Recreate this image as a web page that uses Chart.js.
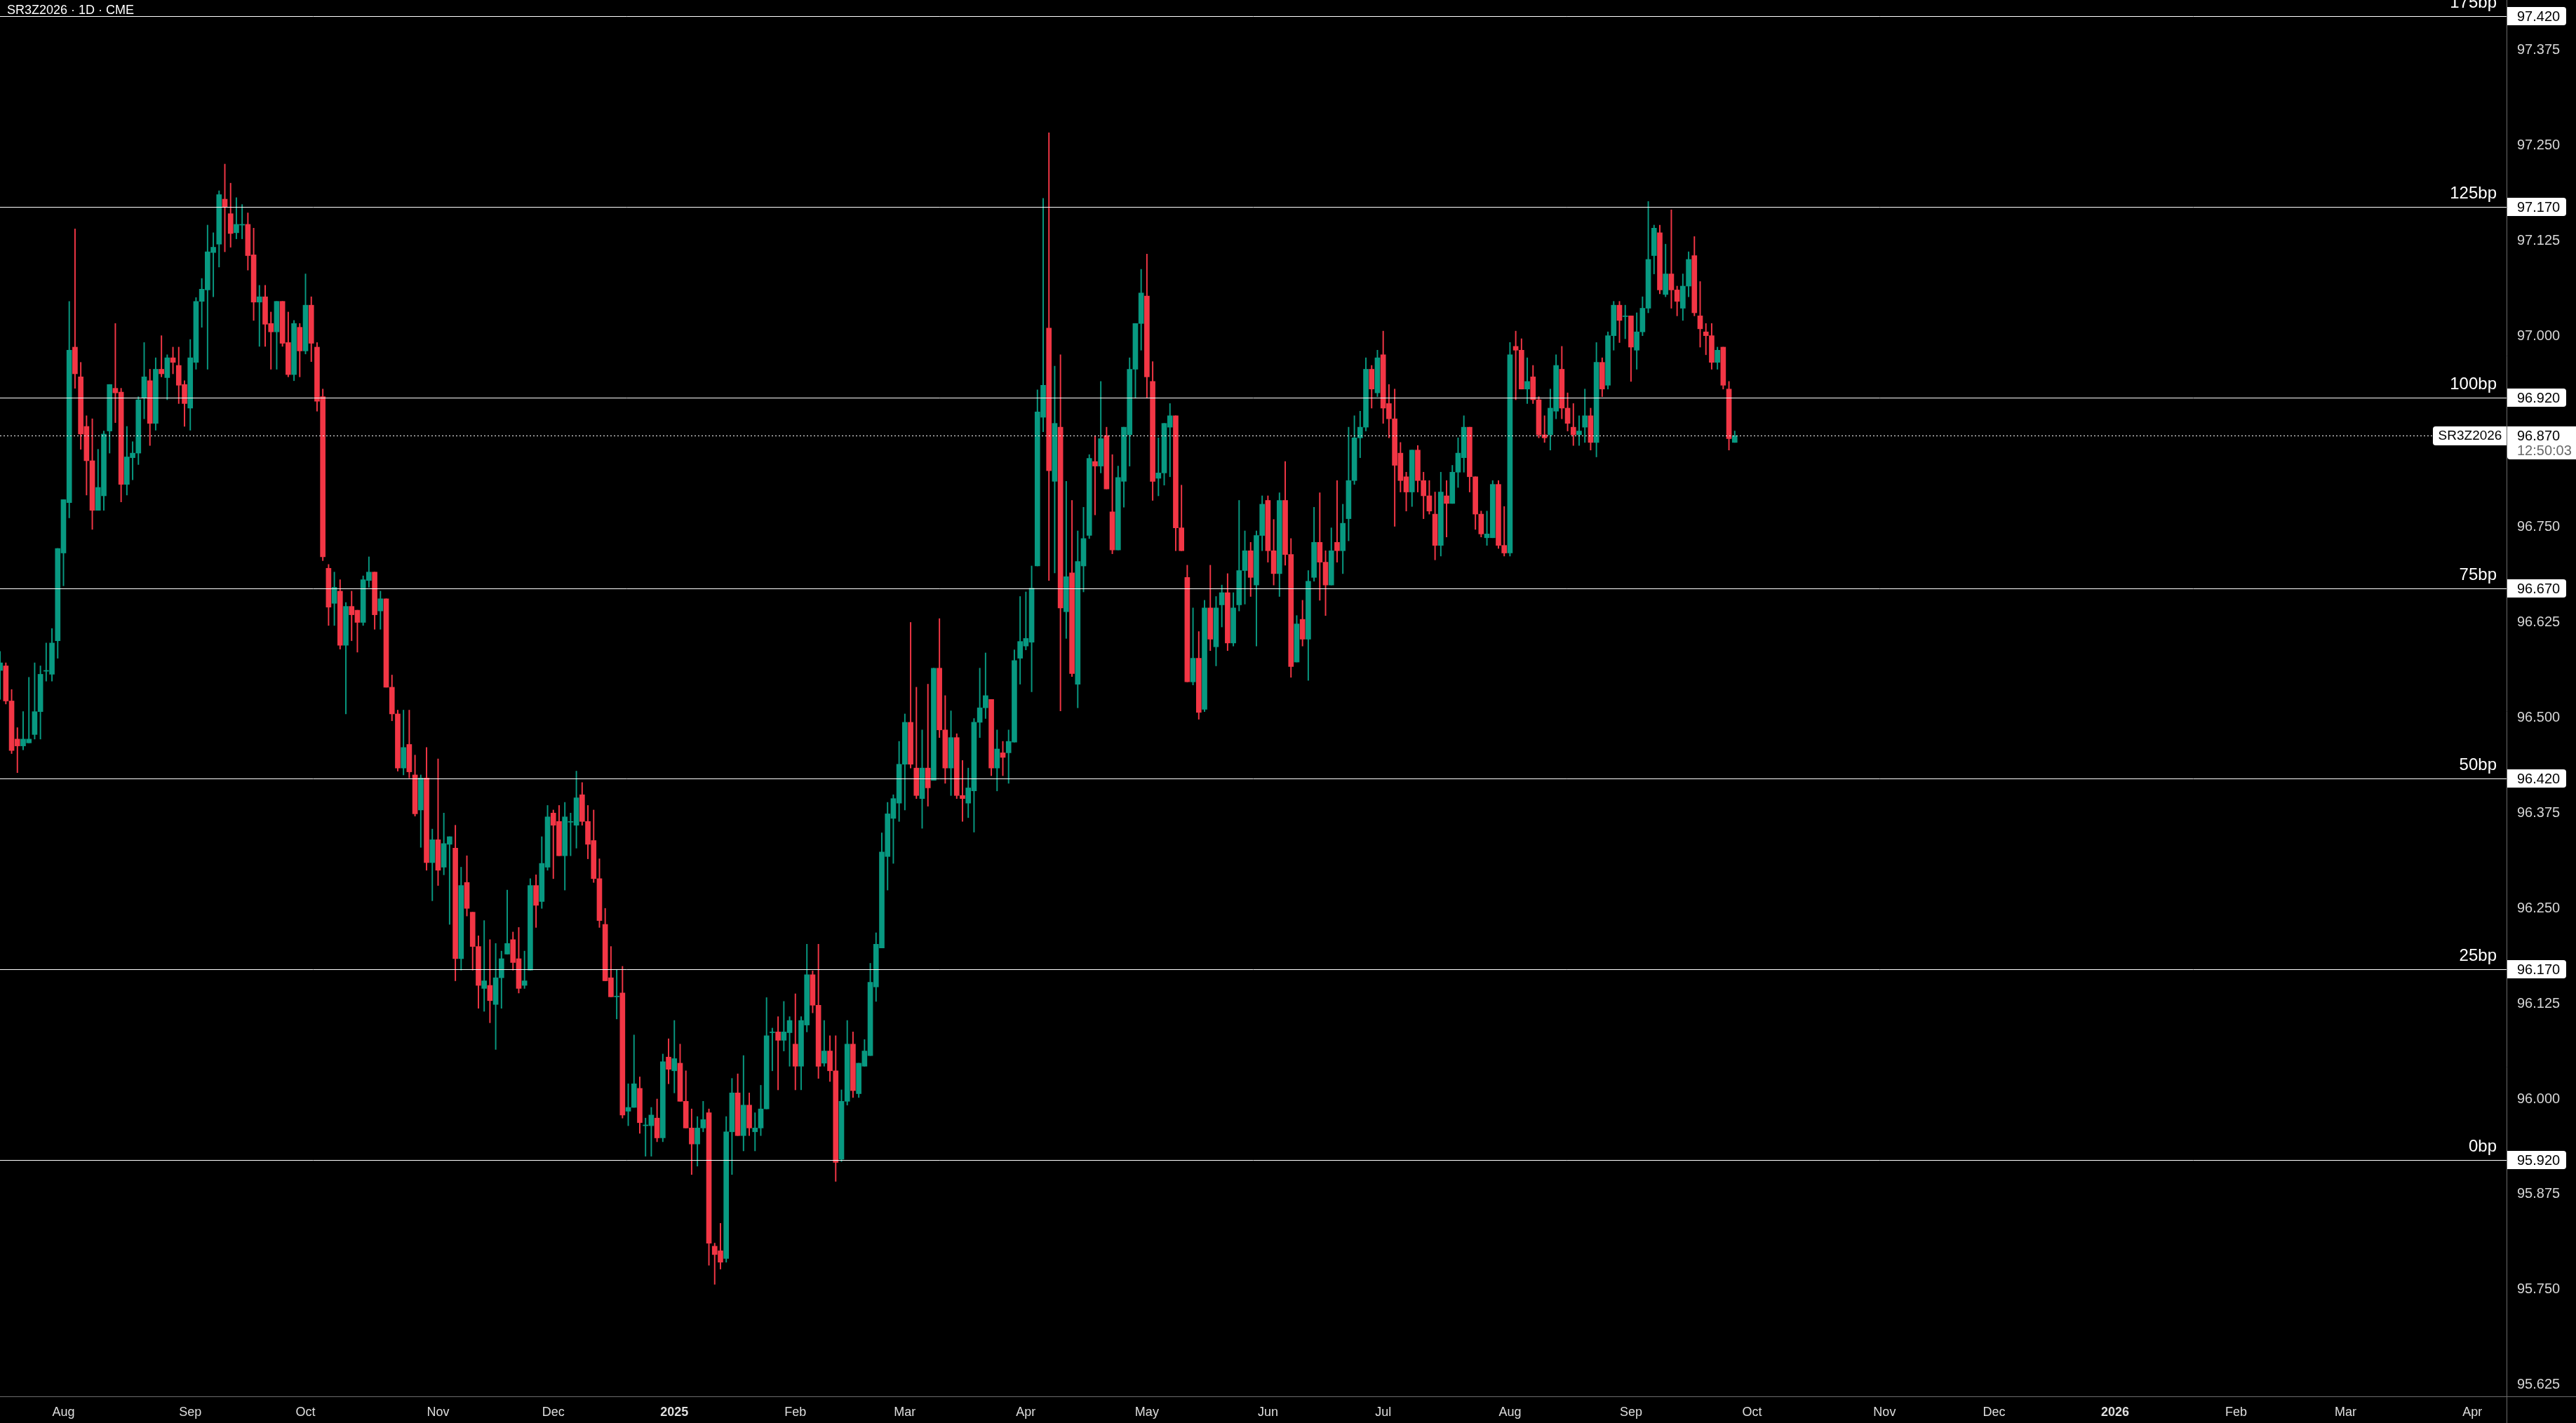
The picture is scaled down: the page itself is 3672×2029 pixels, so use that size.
<!DOCTYPE html>
<html><head><meta charset="utf-8">
<script src="https://cdn.jsdelivr.net/npm/chart.js@4.4.1/dist/chart.umd.min.js"></script>
<style>html,body{margin:0;padding:0;background:#000;overflow:hidden}#wrap{width:3672px;height:2029px;position:relative}</style>
</head><body><div id="wrap"><canvas id="c"></canvas></div>
<script>
const chartTitle = 'SR3Z2026 · 1D · CME';
const symbol = 'SR3Z2026';
const lastPrice = 96.870;
const lastTime = '12:50:03';

const opens = [96.562,96.568,96.522,96.472,96.463,96.467,96.478,96.508,96.561,96.557,96.601,96.716,96.782,96.986,96.947,96.882,96.837,96.772,96.791,96.876,96.932,96.927,96.806,96.841,96.847,96.920,96.942,96.886,96.957,96.946,96.972,96.962,96.937,96.906,96.966,97.046,97.061,97.110,97.121,97.180,97.161,97.136,97.146,97.147,97.107,97.045,97.052,97.017,97.006,97.046,96.992,96.950,97.012,96.981,97.041,96.986,96.921,96.696,96.650,96.666,96.595,96.646,96.641,96.625,96.680,96.691,96.640,96.656,96.540,96.505,96.434,96.465,96.425,96.379,96.421,96.31,96.34,96.304,96.334,96.329,96.184,96.284,96.245,96.200,96.145,96.149,96.124,96.159,96.190,96.209,96.184,96.149,96.169,96.280,96.259,96.304,96.375,96.364,96.319,96.363,96.359,96.399,96.364,96.339,96.289,96.229,96.159,96.134,96.139,95.984,95.989,96.014,95.965,95.965,95.975,95.949,96.055,96.037,96.047,95.997,95.962,95.941,95.962,95.982,95.807,95.801,95.791,95.957,96.008,95.952,95.992,95.957,95.962,95.987,96.087,96.088,96.077,96.087,96.072,96.043,96.097,96.163,96.123,96.047,96.063,96.037,95.921,95.997,96.072,96.007,96.043,96.057,96.147,96.198,96.318,96.368,96.388,96.439,96.494,96.434,96.394,96.434,96.418,96.565,96.484,96.434,96.474,96.398,96.388,96.404,96.494,96.513,96.524,96.434,96.454,96.454,96.468,96.578,96.594,96.599,96.699,96.894,97.011,96.810,96.881,96.639,96.690,96.544,96.699,96.739,96.836,96.830,96.870,96.770,96.720,96.810,96.871,96.957,97.017,97.053,96.941,96.814,96.821,96.881,96.896,96.749,96.684,96.547,96.578,96.511,96.644,96.593,96.648,96.664,96.598,96.648,96.693,96.719,96.674,96.739,96.785,96.719,96.689,96.785,96.714,96.573,96.629,96.603,96.684,96.730,96.704,96.674,96.730,96.719,96.761,96.811,96.867,96.881,96.957,96.926,96.976,96.912,96.892,96.847,96.816,96.796,96.851,96.811,96.791,96.767,96.726,96.791,96.781,96.822,96.841,96.881,96.816,96.767,96.736,96.736,96.806,96.726,96.716,96.987,96.982,96.931,96.947,96.917,96.871,96.871,96.902,96.957,96.906,96.881,96.871,96.881,96.896,96.861,96.966,96.936,97.001,97.041,97.026,97.027,96.982,97.006,97.037,97.106,97.136,97.055,97.082,97.061,97.037,97.066,97.106,97.027,97.006,97.001,96.966,96.986,96.931,96.861];
const highs = [96.587,96.572,96.537,96.487,96.508,96.553,96.572,96.568,96.598,96.617,96.722,96.786,97.046,97.141,96.966,96.896,96.892,96.852,96.876,96.937,97.017,96.932,96.882,96.862,96.921,96.992,96.957,96.972,97.001,96.976,96.986,96.986,96.942,96.996,97.051,97.076,97.146,97.136,97.191,97.226,97.201,97.182,97.173,97.162,97.142,97.067,97.067,97.032,97.046,97.046,97.032,97.021,97.017,97.082,97.052,96.992,96.931,96.701,96.691,96.681,96.651,96.666,96.641,96.686,96.711,96.691,96.666,96.656,96.556,96.510,96.510,96.510,96.451,96.425,96.461,96.354,96.446,96.375,96.344,96.359,96.304,96.319,96.245,96.214,96.234,96.209,96.204,96.194,96.274,96.219,96.225,96.194,96.289,96.294,96.344,96.385,96.379,96.385,96.389,96.375,96.430,96.415,96.385,96.379,96.315,96.250,96.200,96.169,96.174,96.020,96.084,96.029,95.975,95.989,96.000,96.059,96.079,96.103,96.072,96.037,95.987,95.977,95.997,95.987,95.811,95.837,95.977,96.027,96.033,96.057,96.008,95.982,96.018,96.133,96.093,96.108,96.128,96.108,96.138,96.108,96.203,96.168,96.203,96.103,96.083,96.083,96.012,96.103,96.088,96.047,96.078,96.178,96.218,96.349,96.389,96.399,96.469,96.505,96.625,96.540,96.484,96.544,96.565,96.630,96.529,96.509,96.479,96.444,96.434,96.499,96.565,96.585,96.524,96.484,96.469,96.484,96.589,96.659,96.665,96.699,96.930,97.181,97.267,96.961,96.976,96.810,96.785,96.745,96.776,96.845,96.870,96.941,96.881,96.845,96.830,96.881,96.972,97.017,97.088,97.108,96.967,96.867,96.886,96.912,96.896,96.805,96.700,96.644,96.613,96.654,96.700,96.659,96.674,96.689,96.664,96.785,96.745,96.730,96.745,96.791,96.791,96.760,96.795,96.836,96.735,96.634,96.654,96.693,96.776,96.795,96.719,96.749,96.811,96.780,96.881,96.896,96.902,96.972,96.962,96.982,97.007,96.937,96.931,96.861,96.822,96.851,96.857,96.822,96.811,96.796,96.822,96.811,96.831,96.867,96.896,96.881,96.816,96.771,96.771,96.811,96.811,96.777,96.992,97.007,96.997,96.972,96.962,96.921,96.896,96.931,96.976,96.987,96.926,96.912,96.896,96.931,96.906,96.992,96.972,97.006,97.046,97.046,97.041,97.027,97.031,97.052,97.177,97.146,97.146,97.121,97.166,97.066,97.082,97.111,97.131,97.072,97.017,97.017,96.986,96.986,96.941,96.876];
const lows = [96.524,96.518,96.453,96.428,96.458,96.467,96.472,96.472,96.548,96.548,96.578,96.673,96.762,96.932,96.852,96.792,96.747,96.772,96.772,96.847,96.887,96.783,96.792,96.812,96.832,96.892,96.857,96.877,96.947,96.917,96.951,96.912,96.882,96.877,96.957,97.012,96.957,97.052,97.091,97.111,97.117,97.128,97.128,97.087,97.021,96.987,96.987,96.957,96.957,96.987,96.947,96.942,96.947,96.977,96.967,96.902,96.706,96.621,96.621,96.590,96.505,96.601,96.586,96.621,96.671,96.616,96.616,96.540,96.496,96.430,96.425,96.421,96.371,96.33,96.30,96.26,96.28,96.294,96.229,96.155,96.169,96.240,96.169,96.119,96.115,96.100,96.065,96.119,96.190,96.169,96.139,96.145,96.169,96.225,96.250,96.300,96.289,96.319,96.274,96.319,96.329,96.359,96.315,96.284,96.225,96.155,96.134,96.105,95.975,95.965,95.989,95.955,95.925,95.925,95.944,95.944,96.020,96.008,95.997,95.962,95.901,95.912,95.957,95.782,95.757,95.777,95.786,95.901,95.952,95.932,95.952,95.932,95.952,95.987,96.037,96.012,96.063,96.043,96.012,96.012,96.088,96.113,96.027,96.043,96.023,95.892,95.918,95.992,96.002,96.002,96.043,96.057,96.128,96.198,96.274,96.309,96.364,96.379,96.434,96.394,96.355,96.384,96.418,96.474,96.414,96.398,96.394,96.364,96.369,96.35,96.474,96.499,96.424,96.404,96.424,96.414,96.468,96.544,96.589,96.534,96.699,96.875,96.680,96.690,96.509,96.604,96.554,96.513,96.665,96.735,96.766,96.821,96.800,96.715,96.720,96.776,96.830,96.919,96.982,96.919,96.785,96.791,96.805,96.816,96.719,96.719,96.547,96.543,96.498,96.508,96.588,96.568,96.619,96.588,96.594,96.640,96.649,96.659,96.594,96.719,96.704,96.674,96.659,96.700,96.553,96.573,96.594,96.549,96.679,96.654,96.634,96.674,96.704,96.689,96.732,96.806,96.841,96.876,96.906,96.921,96.886,96.867,96.751,96.796,96.771,96.777,96.796,96.761,96.767,96.707,96.712,96.737,96.781,96.802,96.822,96.796,96.747,96.737,96.726,96.736,96.722,96.712,96.712,96.917,96.931,96.912,96.912,96.867,96.861,96.851,96.892,96.892,96.876,96.857,96.857,96.861,96.851,96.842,96.921,96.931,96.982,96.992,96.997,96.941,96.957,97.001,97.031,97.082,97.056,97.052,97.037,97.027,97.021,97.052,97.027,96.986,96.976,96.957,96.957,96.931,96.851,96.861];
const closes = [96.572,96.522,96.457,96.463,96.472,96.472,96.508,96.557,96.562,96.598,96.722,96.786,96.982,96.951,96.872,96.837,96.772,96.802,96.872,96.937,96.926,96.806,96.842,96.847,96.917,96.947,96.886,96.957,96.951,96.972,96.966,96.936,96.912,96.972,97.046,97.062,97.111,97.117,97.186,97.170,97.135,97.147,97.147,97.106,97.045,97.052,97.016,97.006,97.046,96.991,96.950,97.017,96.981,97.041,96.991,96.915,96.711,96.645,96.671,96.595,96.646,96.635,96.625,96.681,96.691,96.635,96.656,96.540,96.505,96.434,96.461,96.429,96.374,96.421,96.31,96.34,96.30,96.335,96.344,96.184,96.280,96.250,96.200,96.149,96.155,96.129,96.159,96.184,96.204,96.179,96.145,96.155,96.280,96.254,96.309,96.370,96.359,96.319,96.370,96.364,96.395,96.364,96.334,96.289,96.234,96.155,96.134,96.135,95.979,95.989,96.020,95.969,95.966,95.979,95.949,96.049,96.039,96.053,95.997,95.962,95.941,95.962,95.973,95.811,95.796,95.786,95.957,96.008,95.952,95.992,95.962,95.962,95.987,96.083,96.088,96.077,96.088,96.103,96.043,96.103,96.163,96.123,96.043,96.063,96.037,95.917,95.997,96.072,96.011,96.047,96.063,96.153,96.203,96.324,96.374,96.394,96.439,96.494,96.439,96.398,96.434,96.408,96.565,96.484,96.434,96.474,96.398,96.394,96.408,96.494,96.513,96.529,96.434,96.459,96.448,96.469,96.575,96.600,96.604,96.670,96.901,96.936,96.824,96.886,96.644,96.685,96.558,96.705,96.735,96.840,96.830,96.866,96.800,96.720,96.815,96.881,96.957,97.017,97.057,96.947,96.810,96.821,96.886,96.896,96.749,96.719,96.547,96.578,96.507,96.644,96.603,96.644,96.664,96.598,96.644,96.693,96.719,96.684,96.739,96.780,96.719,96.689,96.785,96.714,96.567,96.623,96.603,96.679,96.730,96.704,96.674,96.719,96.719,96.755,96.811,96.867,96.881,96.957,96.931,96.972,96.906,96.892,96.831,96.811,96.796,96.851,96.811,96.791,96.771,96.726,96.796,96.781,96.822,96.847,96.881,96.816,96.767,96.741,96.741,96.806,96.726,96.716,96.976,96.982,96.931,96.941,96.917,96.871,96.867,96.906,96.962,96.906,96.886,96.871,96.876,96.896,96.861,96.966,96.931,97.001,97.041,97.021,97.027,96.986,97.006,97.037,97.101,97.142,97.061,97.082,97.061,97.046,97.066,97.101,97.031,97.010,97.001,96.966,96.982,96.936,96.866,96.870];

const monthTickIdx = [11,33,53,76,96,117,138,157,178,199,220,240,262,283,304,327,346,367,388,407,429];
const monthTickLabels = ['Aug','Sep','Oct','Nov','Dec','2025','Feb','Mar','Apr','May','Jun','Jul','Aug','Sep','Oct','Nov','Dec','2026','Feb','Mar','Apr'];
const yTickValues = [95.625,95.75,95.875,96.0,96.125,96.25,96.375,96.5,96.625,96.75,97.0,97.125,97.25,97.375];
const levelValues = [95.92,96.17,96.42,96.67,96.92,97.17,97.42];
const levelLabels = ['0bp','25bp','50bp','75bp','100bp','125bp','175bp'];

const UP = '#089981', DOWN = '#F23645';
const FONT = "'Liberation Sans', Arial, sans-serif";
const candleIdx = opens.map((_, i) => i);
const colorAt = (ctx) => {
  const i = ctx.dataIndex;
  if (i === undefined) return UP;
  return closes[i] >= opens[i] ? UP : DOWN;
};
const noPad = s => {
  s.paddingTop = 0; s.paddingBottom = 0; s.paddingLeft = 0; s.paddingRight = 0;
  if (s._margins) { s._margins.top = 0; s._margins.bottom = 0; s._margins.left = 0; s._margins.right = 0; }
};

const overlay = {
  id: 'overlay',
  beforeDraw(chart) {
    const c = chart.ctx;
    c.save(); c.fillStyle = '#000'; c.fillRect(0, 0, chart.width, chart.height); c.restore();
  },
  afterDatasetsDraw(chart) {
    const c = chart.ctx, ys = chart.scales.y, a = chart.chartArea;
    c.save();
    c.strokeStyle = '#ffffff'; c.lineWidth = 1;
    levelValues.forEach(v => {
      const y = Math.round(ys.getPixelForValue(v)) + 0.5;
      c.beginPath(); c.moveTo(a.left, y); c.lineTo(a.right, y); c.stroke();
    });
    const py = Math.round(ys.getPixelForValue(lastPrice)) + 0.5;
    c.setLineDash([2, 3]);
    c.beginPath(); c.moveTo(a.left, py); c.lineTo(a.right - 105, py); c.stroke();
    c.setLineDash([]);
    c.restore();
  },
  afterDraw(chart) {
    const c = chart.ctx, ys = chart.scales.y, a = chart.chartArea;
    c.save();
    c.strokeStyle = '#6b6b6b'; c.lineWidth = 1;
    c.beginPath(); c.moveTo(0, a.bottom + 0.5); c.lineTo(chart.width, a.bottom + 0.5); c.stroke();
    c.beginPath(); c.moveTo(a.right + 0.5, 0); c.lineTo(a.right + 0.5, chart.height); c.stroke();
    levelValues.forEach((v, k) => {
      const y = Math.round(ys.getPixelForValue(v));
      c.font = '24px ' + FONT; c.fillStyle = '#ffffff'; c.textAlign = 'right'; c.textBaseline = 'alphabetic';
      c.fillText(levelLabels[k], a.right - 14, y - 12);
      c.fillStyle = '#ffffff';
      c.beginPath(); c.roundRect(a.right + 1, y - 13, 84, 26, [0, 4, 4, 0]); c.fill();
      c.fillStyle = '#000'; c.font = '20px ' + FONT; c.textAlign = 'left'; c.textBaseline = 'middle';
      c.fillText(v.toFixed(3), a.right + 15, y + 1);
    });
    const py = Math.round(ys.getPixelForValue(lastPrice));
    c.fillStyle = '#ffffff';
    c.beginPath(); c.roundRect(a.right - 105, py - 13, 105, 27, [4, 0, 0, 4]); c.fill();
    c.beginPath(); c.roundRect(a.right + 1, py - 13, chart.width - a.right - 1, 47, [0, 0, 0, 4]); c.fill();
    c.fillStyle = '#000'; c.font = '19px ' + FONT; c.textAlign = 'center'; c.textBaseline = 'middle';
    c.fillText(symbol, a.right - 52, py + 1);
    c.textAlign = 'left'; c.font = '20px ' + FONT;
    c.fillText(lastPrice.toFixed(3), a.right + 15, py + 1);
    c.fillStyle = '#6a6a6a';
    c.fillText(lastTime, a.right + 15, py + 22);
    c.fillStyle = '#ffffff'; c.font = '18px ' + FONT; c.textAlign = 'left'; c.textBaseline = 'alphabetic';
    c.fillText(chartTitle, 10, 20);
    c.restore();
  }
};

new Chart(document.getElementById('c'), {
  type: 'bar',
  data: {
    datasets: [
      {
        label: 'body',
        data: candleIdx.map(i => ({ x: i, y: [opens[i], closes[i]] })),
        backgroundColor: colorAt, borderWidth: 0, barThickness: 7, minBarLength: 1, grouped: false
      },
      {
        label: 'wick',
        data: candleIdx.map(i => ({ x: i, y: [lows[i], highs[i]] })),
        backgroundColor: colorAt, borderWidth: 0, barThickness: 1.3, minBarLength: 1, grouped: false
      }
    ]
  },
  options: {
    responsive: true, maintainAspectRatio: false, animation: false,
    layout: { padding: 0 },
    events: [],
    plugins: { legend: { display: false }, tooltip: { enabled: false } },
    scales: {
      x: {
        type: 'linear', min: -0.015, max: 434.93, offset: false,
        grid: { display: false, drawTicks: false }, border: { display: false },
        afterBuildTicks: s => { s.ticks = monthTickIdx.map(v => ({ value: v })); },
        afterFit: s => { s.height = 38; noPad(s); },
        ticks: {
          autoSkip: false, maxRotation: 0, padding: 12, color: '#dedede',
          font: ctx => {
            const k = ctx.tick ? monthTickIdx.indexOf(ctx.tick.value) : -1;
            const bold = k >= 0 && /^\d{4}$/.test(monthTickLabels[k]);
            return { family: FONT, size: 18, weight: bold ? 'bold' : 'normal' };
          },
          callback: v => { const k = monthTickIdx.indexOf(v); return k >= 0 ? monthTickLabels[k] : ''; }
        }
      },
      y: {
        position: 'right', min: 95.6101, max: 97.4412,
        grid: { display: false, drawTicks: false }, border: { display: false },
        afterBuildTicks: s => { s.ticks = yTickValues.map(v => ({ value: v })); },
        afterFit: s => { s.width = 99; noPad(s); },
        ticks: { padding: 15, color: '#d6d6d6', font: { family: FONT, size: 20 }, callback: v => Number(v).toFixed(3) }
      }
    }
  },
  plugins: [overlay]
});
</script>
</body></html>
